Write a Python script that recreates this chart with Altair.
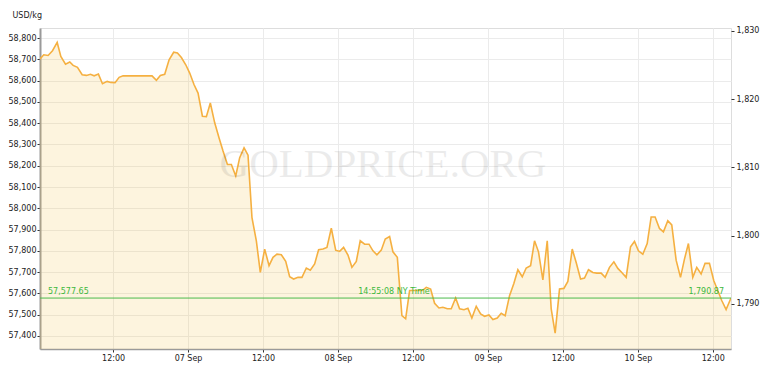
import altair as alt
import pandas as pd

# ---- data (USD per kg) ----
times = [
    "2021-09-06T00:18", "2021-09-06T00:54", "2021-09-06T01:36", "2021-09-06T02:18", "2021-09-06T03:03",
    "2021-09-06T03:38", "2021-09-06T04:23", "2021-09-06T05:04", "2021-09-06T05:36", "2021-09-06T06:18",
    "2021-09-06T07:03", "2021-09-06T07:44", "2021-09-06T08:23", "2021-09-06T08:58", "2021-09-06T09:39",
    "2021-09-06T10:18", "2021-09-06T11:03", "2021-09-06T11:38", "2021-09-06T12:19", "2021-09-06T12:58",
    "2021-09-06T13:36", "2021-09-06T14:18", "2021-09-06T15:38", "2021-09-06T16:58", "2021-09-06T18:14",
    "2021-09-06T18:56", "2021-09-06T19:34", "2021-09-06T20:16", "2021-09-06T20:58", "2021-09-06T21:42",
    "2021-09-06T22:18", "2021-09-06T22:56", "2021-09-06T23:38",
    "2021-09-07T00:16", "2021-09-07T00:58", "2021-09-07T01:36", "2021-09-07T02:18", "2021-09-07T02:56",
    "2021-09-07T03:34", "2021-09-07T04:16", "2021-09-07T04:58", "2021-09-07T05:36", "2021-09-07T06:18",
    "2021-09-07T06:56", "2021-09-07T07:38", "2021-09-07T08:16", "2021-09-07T08:58", "2021-09-07T09:36",
    "2021-09-07T10:14", "2021-09-07T10:56", "2021-09-07T11:34", "2021-09-07T12:16", "2021-09-07T12:58",
    "2021-09-07T13:36", "2021-09-07T14:14", "2021-09-07T14:56", "2021-09-07T15:38", "2021-09-07T16:16",
    "2021-09-07T16:54", "2021-09-07T17:36", "2021-09-07T18:14", "2021-09-07T18:56", "2021-09-07T19:34",
    "2021-09-07T20:16", "2021-09-07T20:54", "2021-09-07T21:36", "2021-09-07T22:14", "2021-09-07T22:56",
    "2021-09-07T23:38",
    "2021-09-08T00:16", "2021-09-08T00:54", "2021-09-08T01:36", "2021-09-08T02:14", "2021-09-08T02:56",
    "2021-09-08T03:34", "2021-09-08T04:16", "2021-09-08T04:58", "2021-09-08T05:36", "2021-09-08T06:14",
    "2021-09-08T06:56", "2021-09-08T07:34", "2021-09-08T08:16", "2021-09-08T08:48", "2021-09-08T09:30",
    "2021-09-08T10:14", "2021-09-08T10:50", "2021-09-08T11:28", "2021-09-08T12:10", "2021-09-08T12:48",
    "2021-09-08T13:30", "2021-09-08T14:08", "2021-09-08T14:50", "2021-09-08T15:28", "2021-09-08T16:10",
    "2021-09-08T16:48", "2021-09-08T17:30", "2021-09-08T18:08", "2021-09-08T18:50", "2021-09-08T19:28",
    "2021-09-08T20:10", "2021-09-08T20:48", "2021-09-08T21:26", "2021-09-08T22:08", "2021-09-08T22:50",
    "2021-09-08T23:28",
    "2021-09-09T00:10", "2021-09-09T00:48", "2021-09-09T01:30", "2021-09-09T02:08", "2021-09-09T02:46",
    "2021-09-09T03:28", "2021-09-09T04:10", "2021-09-09T04:48", "2021-09-09T05:30", "2021-09-09T06:08",
    "2021-09-09T06:50", "2021-09-09T07:28", "2021-09-09T08:06", "2021-09-09T08:48", "2021-09-09T09:30",
    "2021-09-09T10:08", "2021-09-09T10:46", "2021-09-09T11:28", "2021-09-09T12:10", "2021-09-09T12:48",
    "2021-09-09T13:30", "2021-09-09T14:08", "2021-09-09T14:50", "2021-09-09T15:28", "2021-09-09T16:06",
    "2021-09-09T16:48", "2021-09-09T17:26", "2021-09-09T18:08", "2021-09-09T18:46", "2021-09-09T19:28",
    "2021-09-09T20:10", "2021-09-09T20:48", "2021-09-09T21:26", "2021-09-09T22:08", "2021-09-09T22:50",
    "2021-09-09T23:28",
    "2021-09-10T00:06", "2021-09-10T00:48", "2021-09-10T01:30", "2021-09-10T02:08", "2021-09-10T02:46",
    "2021-09-10T03:28", "2021-09-10T04:06", "2021-09-10T04:48", "2021-09-10T05:26", "2021-09-10T06:08",
    "2021-09-10T06:50", "2021-09-10T07:28", "2021-09-10T08:06", "2021-09-10T08:48", "2021-09-10T09:26",
    "2021-09-10T10:08", "2021-09-10T10:46", "2021-09-10T11:28", "2021-09-10T12:10", "2021-09-10T12:48",
    "2021-09-10T13:26", "2021-09-10T14:08", "2021-09-10T14:55",
]
prices = [
    58702, 58722, 58719, 58741, 58780,
    58714, 58678, 58688, 58672, 58663,
    58628, 58625, 58630, 58623, 58631,
    58586, 58597, 58592, 58591, 58616,
    58623, 58623, 58623, 58623, 58623,
    58602, 58625, 58630, 58698, 58734,
    58730, 58709, 58675,
    58636, 58581, 58542, 58433, 58431,
    58495, 58402, 58331, 58269, 58206,
    58206, 58152, 58238, 58284, 58250,
    57956, 57847, 57698, 57808, 57730,
    57769, 57784, 57781, 57750, 57678,
    57667, 57675, 57675, 57719, 57709,
    57738, 57805, 57808, 57816, 57906,
    57803,
    57797, 57816, 57780, 57722, 57750,
    57847, 57831, 57831, 57800, 57781,
    57803, 57855, 57867, 57795, 57769,
    57495, 57480, 57613, 57613, 57613,
    57613, 57628, 57620, 57553, 57531,
    57534, 57527, 57527, 57578, 57527,
    57523, 57530, 57484, 57539, 57503,
    57492,
    57498, 57477, 57484, 57506, 57495,
    57589, 57647, 57711, 57678, 57719,
    57730, 57847, 57795, 57663, 57847,
    57527, 57413, 57620, 57623, 57656,
    57808, 57745, 57667, 57672, 57711,
    57698, 57695, 57695, 57675, 57722,
    57748, 57717, 57698, 57675, 57819,
    57844,
    57800, 57784, 57834, 57959, 57959,
    57905, 57889, 57941, 57922, 57756,
    57675, 57761, 57834, 57675, 57722,
    57691, 57741, 57741, 57659, 57613,
    57566, 57523, 57577.65,
]

last_kg = 57577.65
last_oz = 1790.87
last_time_label = "14:55:08 NY Time"
kg_domain = [57338, 58848]
oz_domain = [1783.4, 1830.4]
kg_ticks = list(range(57400, 58801, 100))
oz_ticks = [1790, 1800, 1810, 1820, 1830]
x_start = "2021-09-06T00:18"
x_end = "2021-09-10T14:55"

df = pd.DataFrame({"time": times, "price": prices})

W, H = 691, 321
FONT = "DejaVu Sans"
GREEN = "#3cb83c"

x_ticks = [alt.DateTime(year=2021, month=9, date=d, hours=h)
           for d, h in [(6, 12), (7, 0), (7, 12), (8, 0), (8, 12), (9, 0), (9, 12), (10, 0), (10, 12)]]

x_axis = alt.Axis(
    values=x_ticks,
    labelExpr="hours(datum.value) == 0 ? timeFormat(datum.value, '%d %b') : timeFormat(datum.value, '%H:%M')",
    title=None, grid=True, gridColor="#ebebeb",
    domainColor="#9a9a9a", domainWidth=1.5,
    tickColor="#333", tickSize=3, labelPadding=2,
    labelFont=FONT, labelFontSize=8, labelColor="#222",
)
x_scale = alt.Scale(domain=[x_start, x_end], nice=False)
y_scale = alt.Scale(domain=kg_domain, nice=False, zero=False)
y_axis = alt.Axis(
    values=kg_ticks, format=",d", grid=True, gridColor="#ebebeb",
    domainColor="#9a9a9a", domainWidth=2, tickColor="#333", tickSize=3,
    labelPadding=1, labelFont=FONT, labelFontSize=8, labelColor="#222",
    title="USD/kg", titleAngle=0, titleAlign="left", titleBaseline="middle",
    titleX=-28, titleY=-13, titleFont=FONT, titleFontSize=8,
    titleFontWeight="normal", titleColor="#222",
)

base = alt.Chart(df)

area = base.mark_area(color="#f5c04a", opacity=0.18, clip=True).encode(
    x=alt.X("time:T", scale=x_scale, axis=x_axis),
    y=alt.Y("price:Q", scale=y_scale, axis=y_axis),
    y2=alt.datum(kg_domain[0]),
)
line = base.mark_line(color="#f5b041", strokeWidth=1.6, clip=True).encode(
    x=alt.X("time:T", scale=x_scale, axis=x_axis),
    y=alt.Y("price:Q", scale=y_scale, axis=y_axis),
)

lbl_df = pd.DataFrame({"v": [last_kg], "t1": [f"{last_kg:,.2f}"], "t2": [last_time_label]})
rule = alt.Chart(lbl_df).mark_rule(color="#4cbb4c", strokeWidth=1).encode(
    y=alt.Y("v:Q", scale=y_scale, axis=y_axis)
)
left_lbl = alt.Chart(lbl_df).mark_text(
    align="left", baseline="bottom", dy=-2, font=FONT, fontSize=8, color=GREEN
).encode(x=alt.value(8), y=alt.Y("v:Q", scale=y_scale, axis=y_axis), text="t1:N")
mid_lbl = alt.Chart(lbl_df).mark_text(
    align="center", baseline="bottom", dy=-2, font=FONT, fontSize=8, color=GREEN
).encode(x=alt.value(354), y=alt.Y("v:Q", scale=y_scale, axis=y_axis), text="t2:N")

watermark = alt.Chart(pd.DataFrame({"t": ["GOLDPRICE.ORG"]})).mark_text(
    align="center", baseline="middle", font="Liberation Serif", fontSize=41,
    color="#000000", opacity=0.075
).encode(x=alt.value(343), y=alt.value(137), text="t:N")

left_layer = alt.layer(area, line, rule, left_lbl, mid_lbl, watermark)

oz_df = pd.DataFrame({"oz": [last_oz], "t": [f"{last_oz:,.2f}"]})
right_layer = alt.Chart(oz_df).mark_text(
    align="right", baseline="bottom", dy=-2, font=FONT, fontSize=8, color=GREEN
).encode(
    x=alt.value(684),
    y=alt.Y("oz:Q", scale=alt.Scale(domain=oz_domain, nice=False, zero=False),
            axis=alt.Axis(orient="right", values=oz_ticks, format=",d", grid=False,
                          domain=False, tickColor="#333", tickSize=3, labelPadding=2,
                          labelFont=FONT, labelFontSize=8, labelColor="#222", title=None)),
    text="t:N",
)

chart = alt.layer(left_layer, right_layer).resolve_scale(y="independent").properties(
    width=W, height=H,
    autosize=alt.AutoSizeParams(type="none"),
    padding={"left": 40, "top": 28, "right": 37, "bottom": 29},
).configure_view(strokeWidth=0).configure(background="white")

chart.save("out.html", embed_options={"renderer": "svg", "actions": False})
